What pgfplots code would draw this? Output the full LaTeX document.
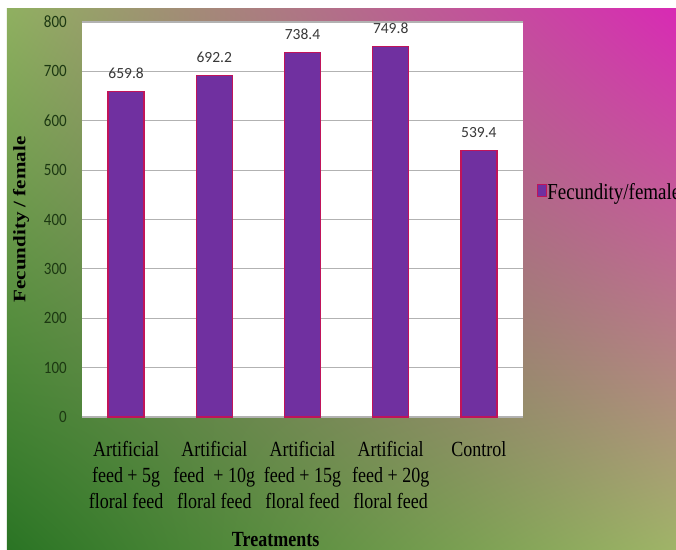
\documentclass[border=0pt]{standalone}
\usepackage{fontspec}
\setmainfont{Liberation Serif}
\newfontfamily\calibri{Carlito}
\usepackage{pgfplots}
\pgfplotsset{compat=1.18}
\usetikzlibrary{shadings}

\definecolor{barfill}{RGB}{112,48,160}
\definecolor{baredge}{RGB}{192,20,90}
\definecolor{gridc}{RGB}{178,178,178}
\definecolor{tickc}{RGB}{28,56,18}
\definecolor{valc}{RGB}{56,56,56}
\definecolor{bgul}{RGB}{143,176,96}
\definecolor{bgur}{RGB}{216,42,180}
\definecolor{bgll}{RGB}{42,116,36}
\definecolor{bglr}{RGB}{160,180,104}

% the reference is stretched vertically a little
\newcommand\vs[1]{\scalebox{1}[1.2]{#1}}

\begin{document}
\begin{tikzpicture}[x=1pt,y=1pt]
% background
\fill[white] (-82,-132) rectangle (594,417);
\shade[upper left=bgul, upper right=bgur, lower left=bgll, lower right=bglr]
  (-75,-132) rectangle (594,408);

\begin{axis}[
  at={(0,0)}, anchor=south west,
  scale only axis, width=441pt, height=395pt,
  axis background/.style={fill=white},
  axis line style={draw=none},
  ybar, bar width=36pt,
  ymin=0, ymax=800, ytick={0,100,...,800},
  xmin=-0.5, xmax=4.5, xtick={0,...,4},
  ymajorgrids, grid style={gridc, line width=1.2pt},
  major tick length=0pt,
  /pgf/number format/assume math mode=true,
  yticklabel={\scalebox{1}[1.15]{\pgfmathprintnumber{\tick}}},
  yticklabel style={font=\calibri\fontsize{15}{18}\selectfont, text=tickc,
    inner sep=0pt, xshift=-15pt},
  xticklabels={
    {\vs{Artificial}\\\vs{feed + 5g}\\\vs{floral feed}},
    {\vs{Artificial}\\\vs{feed ~+ 10g}\\\vs{floral feed}},
    {\vs{Artificial}\\\vs{feed + 15g}\\\vs{floral feed}},
    {\vs{Artificial}\\\vs{feed + 20g}\\\vs{floral feed}},
    {\vs{Control}}},
  xticklabel style={align=center, font=\fontsize{18}{26}\selectfont,
    inner sep=0pt, yshift=-24pt},
  ylabel={\scalebox{1.2}[1]{Fecundity / female}},
  every axis y label/.style={at={(axis description cs:-0.138,0.5)},
    rotate=90, anchor=center, font=\bfseries\fontsize{17.5}{20}\selectfont},
  xlabel={\vs{Treatments}},
  every axis x label/.style={at={(axis description cs:0.439,-0.327)},
    anchor=base, font=\bfseries\fontsize{18}{20}\selectfont},
  legend style={at={(1,0.57)}, anchor=west, xshift=14pt, draw=none, fill=none,
    font=\fontsize{19}{22}\selectfont, inner sep=0pt,
    nodes={inner sep=0pt}, /tikz/every even column/.style={column sep=3pt}},
  legend image code/.code={
    \draw[fill=barfill, draw=baredge, line width=1.2pt] (0pt,-5pt) rectangle (9pt,7pt);},
  nodes near coords,
  every node near coord/.append style={font=\calibri\fontsize{15.5}{18}\selectfont,
    text=valc, anchor=base, yshift=13pt, inner sep=0pt},
]
\addplot[fill=barfill, draw=baredge, line width=1.2pt, point meta=explicit symbolic]
  coordinates {(0,659.8) [659.8] (1,692.2) [692.2] (2,738.4) [738.4]
               (3,749.8) [749.8] (4,539.4) [539.4]};
\addlegendentry{\vs{Fecundity/female}}
\end{axis}
\pgfresetboundingbox
\useasboundingbox (-82,-132) rectangle (594,417);
\end{tikzpicture}
\end{document}
